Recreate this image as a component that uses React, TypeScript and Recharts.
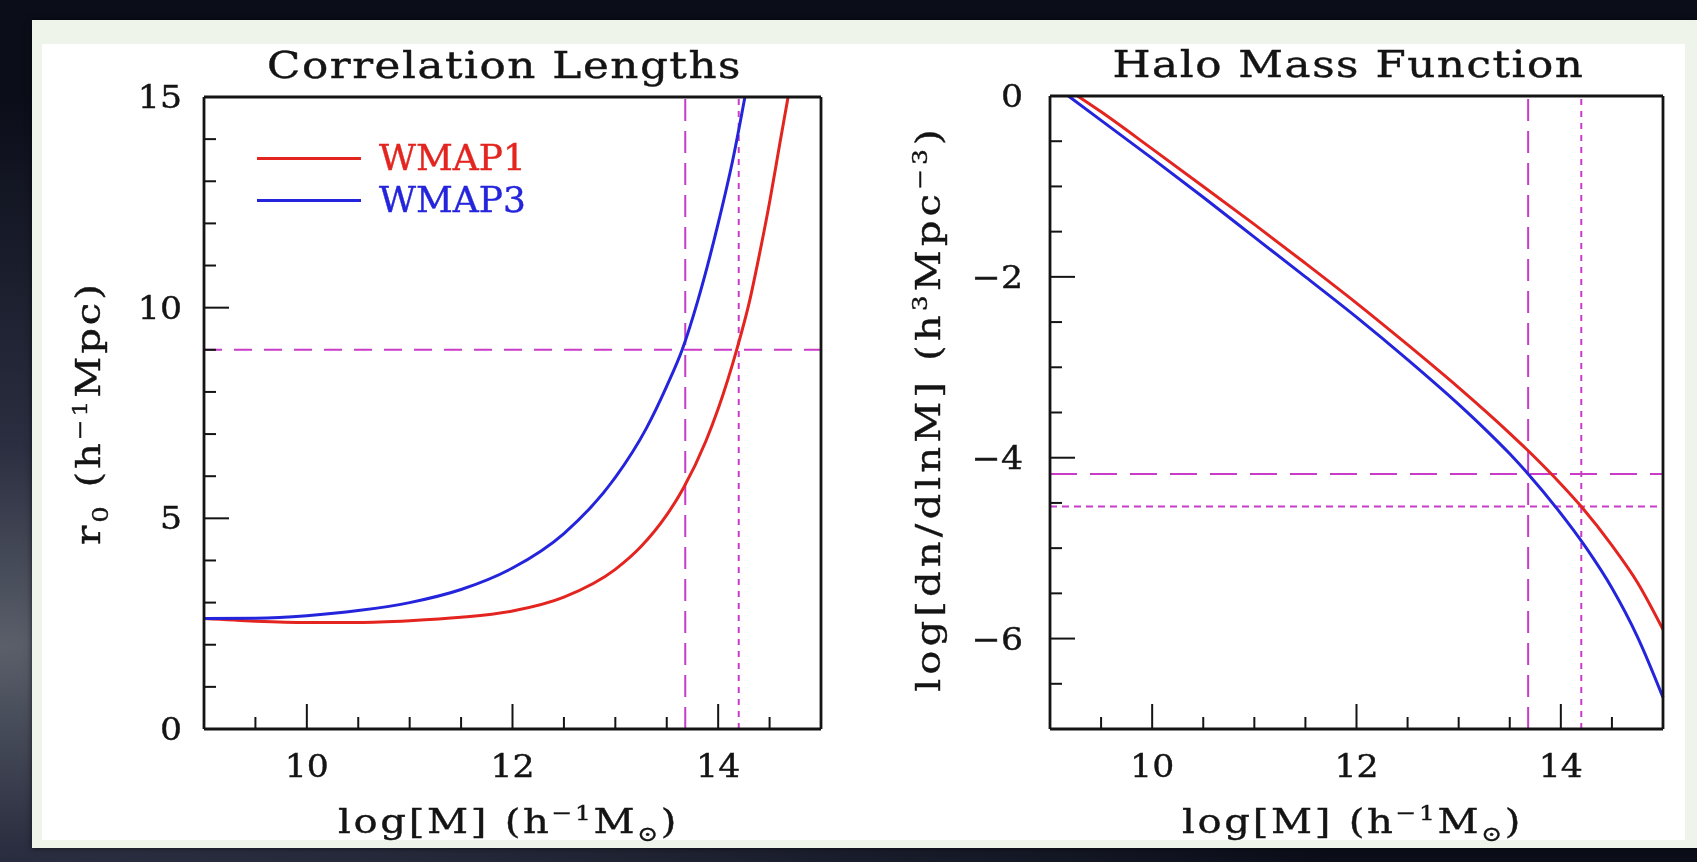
import React from "react";
import { LineChart, Line, XAxis, YAxis, ReferenceLine, Label, Legend } from "recharts";

const FONT = '"DejaVu Serif", "Liberation Serif", serif';
const RED = "#e3241f";
const BLUE = "#2424dc";
const MAGENTA = "#c83cc8";
const INK = "#141414";

// correlation length r0 (h^-1 Mpc) vs log[M]
const r0MassW1 = [9, 9.5, 10, 10.5, 11, 11.5, 12, 12.5, 13, 13.25, 13.5, 13.66, 13.88, 14, 14.18, 14.3, 14.4, 14.5, 14.6, 14.68];
const r0W1 = [2.62, 2.56, 2.53, 2.53, 2.57, 2.65, 2.8, 3.13, 3.79, 4.33, 5.08, 5.71, 6.83, 7.6, 9.0, 10.1, 11.25, 12.5, 13.9, 15.0];
const r0MassW3 = [9, 9.5, 10, 10.5, 11, 11.5, 12, 12.5, 13, 13.3, 13.5, 13.65, 13.8, 14, 14.15, 14.26];
const r0W3 = [2.62, 2.63, 2.69, 2.81, 3.0, 3.31, 3.82, 4.64, 5.97, 7.13, 8.14, 9.0, 10.15, 12.0, 13.6, 15.0];

// halo mass function log[dn/dlnM] (h^3 Mpc^-3) vs log[M]
const hmfMassW1 = [9.27, 9.5, 10, 10.5, 11, 11.5, 12, 12.5, 13, 13.5, 13.75, 14, 14.2, 14.5, 14.75, 15];
const hmfW1 = [0, -0.175, -0.585, -1.0, -1.42, -1.85, -2.29, -2.75, -3.225, -3.73, -4.0, -4.29, -4.54, -4.97, -5.38, -5.9];
const hmfMassW3 = [9.18, 9.5, 10, 10.5, 11, 11.5, 12, 12.5, 13, 13.25, 13.5, 13.68, 13.96, 14.25, 14.5, 14.75, 15];
const hmfW3 = [0, -0.27, -0.69, -1.12, -1.56, -2.0, -2.445, -2.915, -3.41, -3.675, -3.957, -4.18, -4.56, -5.0, -5.44, -5.98, -6.65];

// cut lines
const massCutDashed = 13.68;
const massCutDotted = 14.2;
const r0Cut = 9;
const hmfCutDashed = -4.18;
const hmfCutDotted = -4.54;

// ticks
const massTicks = [9.5, 10, 10.5, 11, 11.5, 12, 12.5, 13, 13.5, 14, 14.5];
const massMajor = [10, 12, 14];
const r0Ticks = [0, 1, 2, 3, 4, 5, 6, 7, 8, 9, 10, 11, 12, 13, 14, 15];
const r0Major = [0, 5, 10, 15];
const hmfTicks = [0, -0.5, -1, -1.5, -2, -2.5, -3, -3.5, -4, -4.5, -5, -5.5, -6, -6.5, -7];
const hmfMajor = [0, -2, -4, -6];

const toPoints = (m: number[], v: number[]) => m.map((x, i) => ({ m: x, v: v[i] }));

const fmt = (v: number) => (v < 0 ? `\u2212${-v}` : `${v}`);

// the plot font is wide, so glyphs get stretched a bit horizontally
const WideText = ({ x, y, sx, rotate, children, ...rest }: any) => (
  <text
    transform={`translate(${x}, ${y})${rotate ? ` rotate(${rotate})` : ""} scale(${sx}, 1)`}
    fontFamily={FONT}
    fill={INK}
    stroke={INK}
    strokeWidth={0.4}
    {...rest}
  >
    {children}
  </text>
);

const bottomTick = (majors: number[]) => (props: any) => {
  const { x, y, payload } = props;
  const major = majors.includes(payload.value);
  return (
    <g>
      <line x1={x} x2={x} y1={y} y2={y - (major ? 25 : 12)} stroke={INK} strokeWidth={2} />
      {major && (
        <WideText x={x} y={y + 48} sx={1.12} textAnchor="middle" fontSize={31}>
          {fmt(payload.value)}
        </WideText>
      )}
    </g>
  );
};

const topTick = (majors: number[]) => (props: any) => {
  const { x, y, payload } = props;
  const major = majors.includes(payload.value);
  return <line x1={x} x2={x} y1={y} y2={y + (major ? 25 : 12)} stroke={INK} strokeWidth={2} />;
};

const leftTick = (majors: number[], gap: number) => (props: any) => {
  const { x, y, payload } = props;
  const major = majors.includes(payload.value);
  return (
    <g>
      <line x1={x} x2={x + (major ? 25 : 12)} y1={y} y2={y} stroke={INK} strokeWidth={2} />
      {major && (
        <WideText x={x - gap} y={y + 11} sx={1.12} textAnchor="end" fontSize={31}>
          {fmt(payload.value)}
        </WideText>
      )}
    </g>
  );
};

const rightTick = (majors: number[]) => (props: any) => {
  const { x, y, payload } = props;
  const major = majors.includes(payload.value);
  return <line x1={x} x2={x - (major ? 25 : 12)} y1={y} y2={y} stroke={INK} strokeWidth={2} />;
};

const massLabel = (props: any) => {
  const { x, y, width } = props.viewBox;
  return (
    <WideText x={x + width / 2 - 4} y={y + 104} sx={1.18} textAnchor="middle" fontSize={34} letterSpacing={2.3}>
      log[M] (h
      <tspan dy={-13} fontSize={21}>{"\u22121"}</tspan>
      <tspan dy={13}>M</tspan>
      <tspan dy={8} fontSize={21}>{"\u2299"}</tspan>
      <tspan dy={-8}>)</tspan>
    </WideText>
  );
};

const titleLabel = (title: string) => (props: any) => {
  const { x, y, width } = props.viewBox;
  return (
    <WideText x={x + width / 2 - 8} y={y - 18} sx={1.18} textAnchor="middle" fontSize={37} letterSpacing={1.3}>
      {title}
    </WideText>
  );
};

const r0Label = (props: any) => {
  const { x, y, height } = props.viewBox;
  return (
    <WideText x={x - 103} y={y + height / 2} rotate={-90} sx={1.18} textAnchor="middle" fontSize={34} letterSpacing={2.5}>
      r
      <tspan dy={8} fontSize={22}>0</tspan>
      <tspan dy={-8}> (h</tspan>
      <tspan dy={-13} fontSize={21}>{"\u22121"}</tspan>
      <tspan dy={13}>Mpc)</tspan>
    </WideText>
  );
};

const hmfLabel = (props: any) => {
  const { x, y, height } = props.viewBox;
  return (
    <WideText x={x - 109} y={y + height / 2 - 4} rotate={-90} sx={1.18} textAnchor="middle" fontSize={34} letterSpacing={3.5}>
      log[dn/dlnM] (h
      <tspan dy={-13} fontSize={21}>3</tspan>
      <tspan dy={13}>Mpc</tspan>
      <tspan dy={-13} fontSize={21}>{"\u22123"}</tspan>
      <tspan dy={13}>)</tspan>
    </WideText>
  );
};

const renderLegend = (props: any) => {
  const { payload } = props;
  return (
    <div>
      {payload.map((entry: any) => (
        <div key={entry.value} style={{ display: "flex", alignItems: "center", height: 42 }}>
          <div style={{ width: 104, height: 3, background: entry.color, marginRight: 18 }} />
          <span
            style={{
              fontFamily: FONT,
              fontSize: 36,
              color: entry.color,
              lineHeight: "42px",
              WebkitTextStroke: `0.4px ${entry.color}`,
            }}
          >
            {entry.value}
          </span>
        </div>
      ))}
    </div>
  );
};

const axisLine = { stroke: INK, strokeWidth: 2.8 };
const cutStyle = { stroke: MAGENTA, strokeWidth: 2 };

export default function App() {
  return (
    <div
      style={{
        position: "fixed",
        left: 0,
        top: 0,
        width: 1697,
        height: 862,
        overflow: "hidden",
        background: "radial-gradient(ellipse at 0% 75%, #5a5f6a 0%, #2a2e40 22%, #0b0e19 60%)",
      }}
    >
      <div style={{ position: "absolute", left: 32, top: 20, width: 1665, height: 828, background: "#eef4ea", boxShadow: "0 0 6px rgba(0,0,0,0.6)" }} />
      <div style={{ position: "absolute", left: 42, top: 44, width: 1643, height: 796, background: "#ffffff" }} />

      <div style={{ position: "absolute", left: 0, top: 0 }}>
        <LineChart width={860} height={862} margin={{ top: 96, right: 38, bottom: 132, left: 203 }}>
          <XAxis dataKey="m" type="number" domain={[9, 15]} ticks={massTicks} interval={0} height={1} tickSize={0} tickMargin={0} tickLine={false} axisLine={axisLine} tick={bottomTick(massMajor)}>
            <Label content={massLabel} />
          </XAxis>
          <XAxis xAxisId="top" orientation="top" dataKey="m" type="number" domain={[9, 15]} ticks={massTicks} interval={0} height={1} tickSize={0} tickMargin={0} tickLine={false} axisLine={axisLine} tick={topTick(massMajor)}>
            <Label content={titleLabel("Correlation Lengths")} />
          </XAxis>
          <YAxis type="number" domain={[0, 15]} ticks={r0Ticks} interval={0} width={1} tickSize={0} tickMargin={0} tickLine={false} axisLine={axisLine} tick={leftTick(r0Major, 22)}>
            <Label content={r0Label} />
          </YAxis>
          <YAxis yAxisId="right" orientation="right" type="number" domain={[0, 15]} ticks={r0Ticks} interval={0} width={1} tickSize={0} tickMargin={0} tickLine={false} axisLine={axisLine} tick={rightTick(r0Major)} />
          <ReferenceLine y={r0Cut} {...cutStyle} strokeDasharray="18 12" />
          <ReferenceLine x={massCutDashed} {...cutStyle} strokeDasharray="22 10" />
          <ReferenceLine x={massCutDotted} {...cutStyle} strokeDasharray="6 6" />
          <Line data={toPoints(r0MassW1, r0W1)} dataKey="v" name="WMAP1" type="monotone" stroke={RED} strokeWidth={3} dot={false} activeDot={false} isAnimationActive={false} />
          <Line data={toPoints(r0MassW3, r0W3)} dataKey="v" name="WMAP3" type="monotone" stroke={BLUE} strokeWidth={3} dot={false} activeDot={false} isAnimationActive={false} />
          <Legend layout="horizontal" verticalAlign="middle" align="center" content={renderLegend} wrapperStyle={{ left: 257, top: 137, width: "auto" }} />
        </LineChart>
      </div>

      <div style={{ position: "absolute", left: 850, top: 0 }}>
        <LineChart width={847} height={862} margin={{ top: 95, right: 33, bottom: 132, left: 199 }}>
          <XAxis dataKey="m" type="number" domain={[9, 15]} ticks={massTicks} interval={0} height={1} tickSize={0} tickMargin={0} tickLine={false} axisLine={axisLine} tick={bottomTick(massMajor)}>
            <Label content={massLabel} />
          </XAxis>
          <XAxis xAxisId="top" orientation="top" dataKey="m" type="number" domain={[9, 15]} ticks={massTicks} interval={0} height={1} tickSize={0} tickMargin={0} tickLine={false} axisLine={axisLine} tick={topTick(massMajor)}>
            <Label content={titleLabel("Halo Mass Function")} />
          </XAxis>
          <YAxis type="number" domain={[-7, 0]} ticks={hmfTicks} interval={0} width={1} tickSize={0} tickMargin={0} tickLine={false} axisLine={axisLine} tick={leftTick(hmfMajor, 27)}>
            <Label content={hmfLabel} />
          </YAxis>
          <YAxis yAxisId="right" orientation="right" type="number" domain={[-7, 0]} ticks={hmfTicks} interval={0} width={1} tickSize={0} tickMargin={0} tickLine={false} axisLine={axisLine} tick={rightTick(hmfMajor)} />
          <ReferenceLine y={hmfCutDashed} {...cutStyle} strokeDasharray="27 13" />
          <ReferenceLine y={hmfCutDotted} {...cutStyle} strokeDasharray="7 5" />
          <ReferenceLine x={massCutDashed} {...cutStyle} strokeDasharray="22 10" />
          <ReferenceLine x={massCutDotted} {...cutStyle} strokeDasharray="6 6" />
          <Line data={toPoints(hmfMassW1, hmfW1)} dataKey="v" name="WMAP1" type="monotone" stroke={RED} strokeWidth={3} dot={false} activeDot={false} isAnimationActive={false} />
          <Line data={toPoints(hmfMassW3, hmfW3)} dataKey="v" name="WMAP3" type="monotone" stroke={BLUE} strokeWidth={3} dot={false} activeDot={false} isAnimationActive={false} />
        </LineChart>
      </div>
    </div>
  );
}
